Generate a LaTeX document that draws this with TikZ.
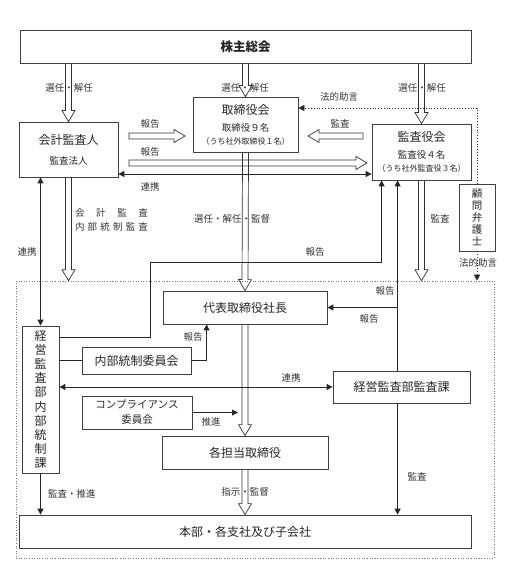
\documentclass[tikz,border=0pt]{standalone}
\usepackage{fontspec}
\setmainfont{Noto Sans CJK JP}
\usetikzlibrary{arrows.meta,
                calc,
                positioning}
\tikzstyle{box} = [draw=black!75, line width=0.8pt, rectangle, inner sep=0pt, align=center, text=black!85, font=\fontsize{12}{14}\selectfont]
\tikzstyle{lab} = [inner sep=0pt, text=black!80, font=\fontsize{9.5}{11}\selectfont]
\tikzstyle{arrow} = [line width=0.9pt, draw=black!85, -{Triangle[length=6pt,width=6pt]}]
\tikzstyle{both} = [line width=0.9pt, draw=black!85, {Triangle[length=6pt,width=6pt]}-{Triangle[length=6pt,width=6pt]}]
\tikzstyle{line} = [line width=0.9pt, draw=black!85]
\tikzstyle{dotarrow} = [line width=0.8pt, draw=black!85, dotted, -{Triangle[length=6pt,width=6pt]}]
\tikzstyle{hollow} = [line width=0.7pt, draw=black!80, to path={
    let \p1=(\tikztostart), \p2=(\tikztotarget),
        \n1={veclen((\x2)-(\x1),(\y2)-(\y1))},
        \n2={atan2((\y2)-(\y1),(\x2)-(\x1))}
    in [shift={(\p1)}, rotate=\n2]
    (0pt,3pt) -- (\n1-11pt,3pt) -- (\n1-11pt,6.5pt) -- (\n1,0pt)
    -- (\n1-11pt,-6.5pt) -- (\n1-11pt,-3pt) -- (0pt,-3pt)}]
\tikzstyle{hollowbar} = [hollow, to path={
    let \p1=(\tikztostart), \p2=(\tikztotarget),
        \n1={veclen((\x2)-(\x1),(\y2)-(\y1))},
        \n2={atan2((\y2)-(\y1),(\x2)-(\x1))}
    in [shift={(\p1)}, rotate=\n2]
    (0pt,3pt) -- (\n1-11pt,3pt) -- (\n1-11pt,6.5pt) -- (\n1,0pt)
    -- (\n1-11pt,-6.5pt) -- (\n1-11pt,-3pt) -- (0pt,-3pt) -- cycle}]

\begin{document}
\begin{tikzpicture}[x=1pt,y=-1pt]
    \useasboundingbox (0,0) rectangle (519,564);

    % dotted frame round the executive part
    \node[draw=black!55, dotted, line width=0.6pt, minimum width=478pt, minimum height=277pt] (group) at (255,419.5) {};

    \node[box, minimum width=451pt, minimum height=33pt, font=\bfseries\fontsize{12.5}{14}\selectfont] (kabunushi) at (245.5,46.5) {株主総会};
    \node[box, minimum width=99pt, minimum height=55pt] (kaikei) at (68.5,149.5) {会計監査人\\[6pt]{\fontsize{9.5}{11}\selectfont 監査法人}};
    \node[box, minimum width=105pt, minimum height=55pt] (torishimari) at (245.5,124.5) {取締役会\\[3pt]{\fontsize{9.5}{11}\selectfont 取締役９名}\\[-1pt]{\fontsize{8}{9}\selectfont （うち社外取締役１名）}};
    \node[box, minimum width=99pt, minimum height=56pt] (kansa) at (421.5,152) {監査役会\\[3pt]{\fontsize{9.5}{11}\selectfont 監査役４名}\\[-1pt]{\fontsize{8}{9}\selectfont （うち社外監査役３名）}};
    \node[box, minimum width=36pt, minimum height=67pt, font=\fontsize{10.5}{12}\selectfont] (komon) at (477,217.5) {顧\\問\\弁\\護\\士};
    \node[box, minimum width=164pt, minimum height=33pt] (daihyo) at (245,307.5) {代表取締役社長};
    \node[box, minimum width=37pt, minimum height=147pt, font=\fontsize{12}{14.2}\selectfont] (naibu) at (40.5,399.5) {経\\営\\監\\査\\部\\内\\部\\統\\制\\課};
    \node[box, minimum width=109pt, minimum height=27pt] (iinkai) at (136.5,360.5) {内部統制委員会};
    \node[box, minimum width=137pt, minimum height=32pt] (kansaka) at (401.5,387) {経営監査部監査課};
    \node[box, minimum width=110pt, minimum height=33pt, font=\fontsize{10.5}{15}\selectfont] (compliance) at (137,412.5) {コンプライアンス\\委員会};
    \node[box, minimum width=166pt, minimum height=33pt] (kakutanto) at (245,452.5) {各担当取締役};
    \node[box, minimum width=452pt, minimum height=33pt] (honbu) at (245,531.5) {本部・各支社及び子会社};

    % free ends
    \coordinate (hoa) at (129,136);
    \coordinate (hob) at (185,136);
    \coordinate (hoc) at (129,163);
    \coordinate (hod) at (367,163);
    \coordinate (kaa) at (363,136);
    \coordinate (kab) at (308,136);
    \coordinate (rv) at ([xshift=26pt]kansa.south west);
    \coordinate (suishin) at (238,412.5);

    % appointment arrows
    \draw[hollow] (kaikei.north |- kabunushi.south) to (kaikei.north);
    \draw[hollow] (torishimari.north |- kabunushi.south) to (torishimari.north);
    \draw[hollow] (kansa.north |- kabunushi.south) to (kansa.north);
    \draw[hollowbar] (hoa) to (hob);
    \draw[hollowbar] (hoc) to (hod);
    \draw[hollowbar] (kaa) to (kab);
    \draw[hollow] (kaikei.south) to (kaikei.south |- group.north);
    \draw[hollow] (torishimari.south) to (daihyo.north);
    \draw[hollow] (kansa.south) to (kansa.south |- group.north);
    \draw[hollow] (daihyo.south) to (kakutanto.north);
    \draw[hollow] (kakutanto.south) to (honbu.north);

    % solid connectors
    \draw[both] (kaikei.east |- 0,174) -- (kansa.west |- 0,174);
    \draw[both] (naibu.north |- kaikei.south) -- (naibu.north);
    \draw[arrow] (naibu.east |- 0,337) -| (150,262) -| ([xshift=10pt]kansa.south west);
    \draw[arrow] (rv |- kansaka.north) -- (rv);
    \draw[arrow] (rv |- daihyo.east) -- (daihyo.east);
    \draw[line] (naibu.east |- iinkai.west) -- (iinkai.west);
    \draw[arrow] (iinkai.east) -| ([xshift=44pt]daihyo.south west);
    \draw[both] (naibu.east |- kansaka.west) -- (kansaka.west);
    \draw[arrow] (compliance.east) -- (suishin);
    \draw[arrow] (naibu.south) -- (naibu.south |- honbu.north);
    \draw[arrow] (rv |- kansaka.south) -- (rv |- honbu.north);
    \draw[dotarrow] (komon.north) |- (torishimari.north east |- 0,108);
    \draw[dotarrow] (komon.south) -- (komon.south |- group.north);

    % labels
    \node[lab] (l1) at (69,88) {選任・解任};
    \node[lab] (l2) at (245,88) {選任・解任};
    \node[lab] (l3) at (422,88) {選任・解任};
    \node[lab] (l4) at (339,97) {法的助言};
    \node[lab] (l5) at (150,124) {報告};
    \node[lab] (l6) at (150,152) {報告};
    \node[lab] (l7) at (150,187) {連携};
    \node[lab] (l8) at (340,124) {監査};
    \node[lab, align=left, font=\fontsize{9.5}{14}\selectfont] (l9) at (111.5,220) {\makebox[73pt][s]{会 計 監 査}\\\makebox[73pt][s]{内 部 統 制 監 査}};
    \node[lab] (l10) at (232,219) {選任・解任・監督};
    \node[lab] (l11) at (440,219) {監査};
    \node[lab] (l12) at (27,252) {連携};
    \node[lab] (l13) at (315,252) {報告};
    \node[lab] (l14) at (478,263) {法的助言};
    \node[lab] (l15) at (385,291) {報告};
    \node[lab] (l16) at (369,319) {報告};
    \node[lab] (l17) at (193,337) {報告};
    \node[lab] (l18) at (291,378) {連携};
    \node[lab] (l19) at (211,422) {推進};
    \node[lab] (l20) at (417,477) {監査};
    \node[lab] (l21) at (245,492) {指示・監督};
    \node[lab, anchor=west] (l22) at (48,494) {監査・推進};
\end{tikzpicture}
\end{document}
